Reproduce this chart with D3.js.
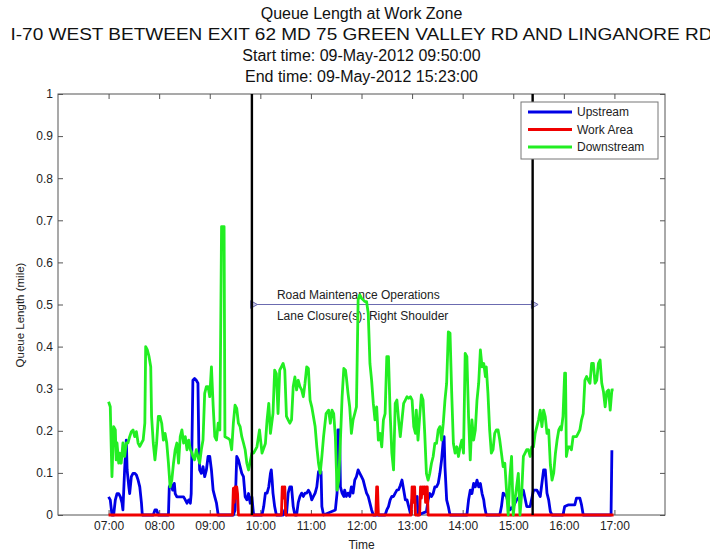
<!DOCTYPE html>
<html>
<head>
<meta charset="utf-8">
<script src="https://cdn.jsdelivr.net/npm/d3@7"></script>
<style>
  body { margin: 0; background: #fff; }
  svg { display: block; }
  text { font-family: "Liberation Sans", Arial, sans-serif; }
</style>
</head>
<body>
<svg id="chart" width="710" height="554"></svg>
<script>
// ---- data ---------------------------------------------------------------
// Times are minutes after midnight on 09-May-2012; values are queue length in miles.
const titleLines = [
  "Queue Length at Work Zone",
  "I-70 WEST BETWEEN EXIT 62 MD 75 GREEN VALLEY RD AND LINGANORE RD",
  "Start time: 09-May-2012 09:50:00",
  "End time: 09-May-2012 15:23:00"
];
const seriesNames = ["Upstream", "Work Area", "Downstream"];
const seriesColors = ["#0000e6", "#f00000", "#22ee22"];

const upstream = [
  [420,.043],[422,.036],[424,0],[426,0],[428,.036],[430,.051],[432,.051],[434,.043],[436,.028],[437,.012],
  [439,.107],[441,.178],[442,.107],[444,.067],[445,.051],[447,.091],[449,.099],[451,.099],[453,.095],[455,.083],
  [457,.067],[459,.028],[460,0],[473,0],[475,.012],[477,.012],[479,0],[491,0],[492,.067],[494,.075],
  [496,.059],[498,.075],[499,.051],[501,.043],[505,.043],[509,.043],[511,.036],[513,.028],[515,.036],[517,.028],
  [518,.051],[520,.32],[522,.324],[524,.32],[526,.313],[527,.17],[528,.107],[530,.099],[532,.115],[534,.091],
  [536,.107],[538,.139],[540,.139],[542,.107],[544,.059],[546,.043],[548,.028],[550,0],[568,0],[570,.012],
  [572,.139],[574,.131],[576,.115],[578,.099],[580,.091],[582,.043],[584,.036],[586,.051],[588,.028],[590,.043],
  [592,0],[602,0],[604,.02],[606,.052],[608,.052],[610,.067],[612,.099],[613,.107],[614,.083],[615,.052],
  [617,.02],[619,0],[627,0],[629,.012],[631,0],[633,.052],[635,.067],[637,.067],[639,.02],[641,0],
  [643,0],[645,.03],[647,.044],[649,.052],[651,.044],[653,.052],[655,.052],[657,.059],[659,.052],[661,.036],
  [663,.044],[665,.052],[667,.067],[669,.103],[672,.103],[673,.02],[675,0],[689,.012],[691,.052],[692,.202],
  [694,.202],[695,.067],[697,.052],[699,.044],[700,.059],[702,.044],[704,.052],[706,.044],[708,.067],[710,.052],
  [712,.083],[714,.091],[716,.107],[718,.099],[720,.091],[722,.083],[724,.067],[726,.052],[728,.044],[730,.028],
  [732,.012],[734,0],[748,0],[750,.012],[752,.02],[754,.036],[756,.044],[758,.044],[760,.052],[762,.059],
  [764,.06],[766,.07],[768,.083],[770,.06],[772,.036],[774,.036],[776,.02],[778,.004],[780,.036],[782,.051],
  [784,.036],[786,.044],[787,0],[797,.008],[799,.036],[801,.051],[803,.044],[805,.051],[807,.067],[809,.067],
  [811,.075],[813,.099],[815,.131],[817,.178],[818,.186],[819,.115],[821,.036],[823,.02],[825,0],[845,0],
  [847,.036],[849,.059],[851,.051],[853,.075],[855,.067],[857,.083],[859,.067],[861,.075],[863,.051],[865,.036],
  [866,.02],[868,0],[884,0],[886,.02],[888,.052],[892,.044],[896,.012],[900,.02],[904,.036],[908,.044],
  [912,.059],[916,.02],[920,.02],[924,.059],[928,.059],[932,.044],[936,.107],[938,.107],[940,.052],[942,.036],
  [944,.008],[946,0],[959,0],[961,.02],[965,.024],[973,.024],[975,.04],[979,.04],[981,.024],[983,0],
  [1016,0],[1017,.154]
];

const workArea = [
  [420,0],[567,0],[568,.063],[569,.03],[570,.067],[571,.04],[572,.067],[573,.05],[574,0],
  [625,0],[626,.067],[627,.04],[628,.067],[629,.067],[630,0],
  [737,0],[738,.067],[739,.067],[740,0],
  [779,0],[780,.067],[781,.03],[782,.067],[783,.067],[784,0],
  [789,0],[790,.067],[791,.04],[792,.067],[793,.05],[794,.067],[795,.067],[796,.03],[797,.067],[798,.067],[799,0],
  [1019,0]
];

const downstream = [
  [420,.269],[422,.257],[423,.171],[424,.091],[426,.21],[428,.202],[429,.131],[430,.171],[432,.123],[433,.147],
  [435,.123],[437,.171],[439,.139],[441,.171],[443,.171],[445,.186],[447,.198],[449,.202],[451,.186],[453,.198],
  [455,.171],[457,.163],[459,.171],[461,.178],[463,.218],[464,.4],[466,.392],[468,.376],[470,.352],[471,.234],
  [473,.171],[475,.131],[477,.171],[479,.234],[481,.234],[483,.218],[485,.178],[487,.194],[489,.171],[491,.123],
  [493,.067],[495,.083],[497,.123],[499,.155],[501,.171],[503,.123],[505,.186],[507,.202],[509,.171],[511,.186],
  [513,.155],[515,.178],[517,.155],[519,.147],[520,.139],[522,.131],[524,.155],[526,.139],[528,.123],[530,.155],
  [532,.178],[534,.289],[536,.305],[538,.305],[540,.281],[542,.352],[544,.261],[546,.186],[548,.178],[550,.218],
  [552,.202],[554,.685],[557,.685],[558,.186],[562,.182],[564,.178],[566,.155],[568,.218],[570,.261],[572,.253],
  [574,.218],[576,.21],[578,.186],[580,.171],[582,.155],[584,.123],[586,.107],[590,.147],
  [592,.147],[596,.162],[599,.202],[602,.147],[606,.17],[608,.226],[610,.265],[612,.194],[615,.241],[617,.344],
  [619,.336],[621,.241],[623,.344],[625,.352],[627,.36],[629,.344],[631,.234],[633,.226],[635,.218],[637,.226],
  [639,.305],[641,.328],[643,.297],[645,.32],[647,.305],[649,.297],[651,.281],[653,.313],[655,.352],[657,.348],
  [659,.273],[661,.257],[665,.21],[667,.162],[669,.123],[671,.099],[673,.139],[675,.186],[678,.241],[681,.249],
  [683,.218],[685,.249],[687,.241],[689,.186],[691,.059],[693,.083],[695,.178],[697,.281],[699,.348],[701,.344],
  [702,.328],[704,.289],[706,.257],[708,.194],[710,.226],[712,.241],[714,.257],[716,.511],[718,.523],[720,.515],
  [722,.511],[724,.507],[726,.507],[728,.479],[730,.36],[732,.32],[734,.265],[736,.226],[738,.257],[740,.178],
  [742,.194],[744,.162],[746,.226],[748,.241],[750,.376],[752,.376],[754,.241],[756,.147],[758,.107],[760,.265],
  [762,.273],[764,.226],[766,.186],[768,.226],[770,.265],
  [772,.273],[774,.281],[776,.277],[778,.281],[780,.273],[782,.21],[784,.194],[785,.249],[787,.178],[789,.233],
  [791,.285],[793,.273],[795,.194],[797,.099],[799,.083],[801,.099],[803,.123],[805,.139],[807,.17],[809,.17],
  [811,.202],[813,.21],[815,.178],[817,.218],[819,.273],[821,.313],[823,.435],[825,.432],[827,.289],[829,.17],
  [831,.147],[833,.162],[835,.139],[837,.162],[839,.178],[841,.147],[843,.384],[845,.376],[847,.233],[849,.131],
  [851,.226],[853,.178],[855,.202],[857,.273],[859,.313],[861,.392],[863,.352],[865,.36],[867,.329],[868,.352],
  [870,.289],[872,.202],[874,.147],[876,.155],[878,.194],[880,.202],[882,.202],[884,.178],[886,.147],[888,.115],
  [890,.123],[892,.059],[894,0],[896,.091],[898,.139],[900,0],[902,.036],[904,.067],[906,.099],[908,0],
  [910,.051],[912,.139],[914,.147],[916,.155],[918,.155],[920,.139],[922,.162],[924,.162],[926,.194],[928,.21],
  [930,.226],[932,.249],[934,.21],[936,.249],[938,.233],[940,.194],[942,.202],[944,.12],[946,.083],[948,.1],
  [950,.146],[952,.178],[954,.202],[956,.21],[957,.202],[959,.234],[961,.337],[962,.337],[963,.139],[965,.162],
  [967,.162],[969,.155],[971,.186],[973,.186],[975,.186],[977,.194],[979,.202],[981,.226],[983,.241],[985,.32],
  [987,.329],[989,.32],[991,.313],[993,.36],[995,.36],[997,.313],[999,.32],[1001,.36],[1003,.368],[1005,.313],
  [1007,.293],[1009,.257],[1011,.293],[1013,.297],[1015,.249],[1017,.297],[1019,.297]
];

const workZoneTimes = [590, 923];            // 09:50 and 15:23
const annotationLines = ["Road Maintenance Operations", "Lane Closure(s): Right Shoulder"];
const annotationLevel = 0.5;
const timeDomain = [360, 1080];               // 06:00 to 18:00
const hourTicks = [7, 8, 9, 10, 11, 12, 13, 14, 15, 16, 17];
const valueTicks = [0, 0.1, 0.2, 0.3, 0.4, 0.5, 0.6, 0.7, 0.8, 0.9, 1];

// ---- layout -------------------------------------------------------------
const plot = { left: 58, right: 665, top: 94, bottom: 515 };
const toDate = m => new Date(2012, 4, 9, 0, m);

const svg = d3.select("#chart");
const x = d3.scaleTime().domain(timeDomain.map(toDate)).range([plot.left, plot.right]);
const y = d3.scaleLinear().domain([0, 1]).range([plot.bottom, plot.top]);
const axisColor = "#555";
const textColor = "#222";

// titles; the long road name line runs nearly edge to edge
const titleWidths = [null, 702, null, null];
svg.append("g").selectAll("text").data(titleLines).join("text")
  .attr("x", (plot.left + plot.right) / 2)
  .attr("y", (d, i) => 19 + i * 21)
  .attr("text-anchor", "middle")
  .attr("font-size", 16)
  .attr("fill", "#111")
  .each(function (d, i) {
    if (titleWidths[i]) {
      d3.select(this).attr("textLength", titleWidths[i]).attr("lengthAdjust", "spacingAndGlyphs");
    }
  })
  .text(d => d);

// axes with inward ticks
const hourDates = hourTicks.map(h => toDate(h * 60));
function styleAxis(g) {
  g.select(".domain").remove();
  g.selectAll(".tick line").attr("stroke", axisColor);
  g.selectAll(".tick text").attr("fill", textColor).attr("font-size", 12)
    .attr("font-family", '"Liberation Sans", Arial, sans-serif');
}
svg.append("g").attr("transform", `translate(0,${plot.bottom})`)
  .call(d3.axisBottom(x).tickValues(hourDates).tickFormat(d3.timeFormat("%H:%M"))
    .tickSizeInner(-5).tickSizeOuter(0).tickPadding(6))
  .call(styleAxis);
svg.append("g").attr("transform", `translate(0,${plot.top})`)
  .call(d3.axisTop(x).tickValues(hourDates).tickFormat("").tickSizeInner(-5).tickSizeOuter(0))
  .call(styleAxis);
svg.append("g").attr("transform", `translate(${plot.left},0)`)
  .call(d3.axisLeft(y).tickValues(valueTicks).tickFormat(d => String(+d.toFixed(1)))
    .tickSizeInner(-5).tickSizeOuter(0).tickPadding(5))
  .call(styleAxis);
svg.append("g").attr("transform", `translate(${plot.right},0)`)
  .call(d3.axisRight(y).tickValues(valueTicks).tickFormat("").tickSizeInner(-5).tickSizeOuter(0))
  .call(styleAxis);

svg.append("rect")
  .attr("x", plot.left).attr("y", plot.top)
  .attr("width", plot.right - plot.left).attr("height", plot.bottom - plot.top)
  .attr("fill", "none").attr("stroke", axisColor).attr("stroke-width", 1);

// axis titles
svg.append("text")
  .attr("x", (plot.left + plot.right) / 2).attr("y", 549)
  .attr("text-anchor", "middle").attr("font-size", 12).attr("fill", textColor)
  .text("Time");
svg.append("text")
  .attr("transform", "translate(24,315) rotate(-90)")
  .attr("text-anchor", "middle").attr("font-size", 11.5).attr("fill", textColor)
  .text("Queue Length (mile)");

// work zone annotation
const annY = y(annotationLevel);
const annX0 = x(toDate(workZoneTimes[0])), annX1 = x(toDate(workZoneTimes[1]));
const annColor = "#6b6bb0";
svg.append("line")
  .attr("x1", annX0).attr("x2", annX1).attr("y1", annY).attr("y2", annY)
  .attr("stroke", annColor).attr("stroke-width", 1);
[annX0, annX1].forEach(px => {
  svg.append("path")
    .attr("d", d3.symbol(d3.symbolTriangle, 26)())
    .attr("transform", `translate(${px + 1},${annY}) rotate(90)`)
    .attr("fill", "#c4c4e6").attr("stroke", annColor).attr("stroke-width", 1);
});
svg.append("g").selectAll("text").data(annotationLines).join("text")
  .attr("x", annX0 + 25)
  .attr("y", (d, i) => annY - 6 + i * 21)
  .attr("font-size", 12).attr("fill", textColor)
  .text(d => d);

// series lines
const line = d3.line()
  .x(d => x(toDate(d[0])))
  .y(d => y(d[1]));
const seriesData = [upstream, workArea, downstream];
svg.append("g").selectAll("path").data(seriesData).join("path")
  .attr("d", line)
  .attr("fill", "none")
  .attr("stroke", (d, i) => seriesColors[i])
  .attr("stroke-width", 2.8)
  .attr("stroke-linejoin", "round");

// work zone start / end markers
svg.append("g").selectAll("line").data(workZoneTimes).join("line")
  .attr("x1", d => x(toDate(d))).attr("x2", d => x(toDate(d)))
  .attr("y1", plot.top).attr("y2", plot.bottom)
  .attr("stroke", "#000").attr("stroke-width", 2.4);

// legend
const legend = svg.append("g").attr("transform", "translate(521,102)");
legend.append("rect").attr("width", 137).attr("height", 57)
  .attr("fill", "#fff").attr("stroke", "#777").attr("stroke-width", 1);
const rows = legend.selectAll("g").data(seriesNames).join("g")
  .attr("transform", (d, i) => `translate(0,${10 + i * 17.5})`);
rows.append("line").attr("x1", 7).attr("x2", 51)
  .attr("stroke", (d, i) => seriesColors[i]).attr("stroke-width", 2.8);
rows.append("text").attr("x", 56).attr("dy", "0.35em")
  .attr("font-size", 12).attr("fill", textColor)
  .text(d => d);
</script>
</body>
</html>
